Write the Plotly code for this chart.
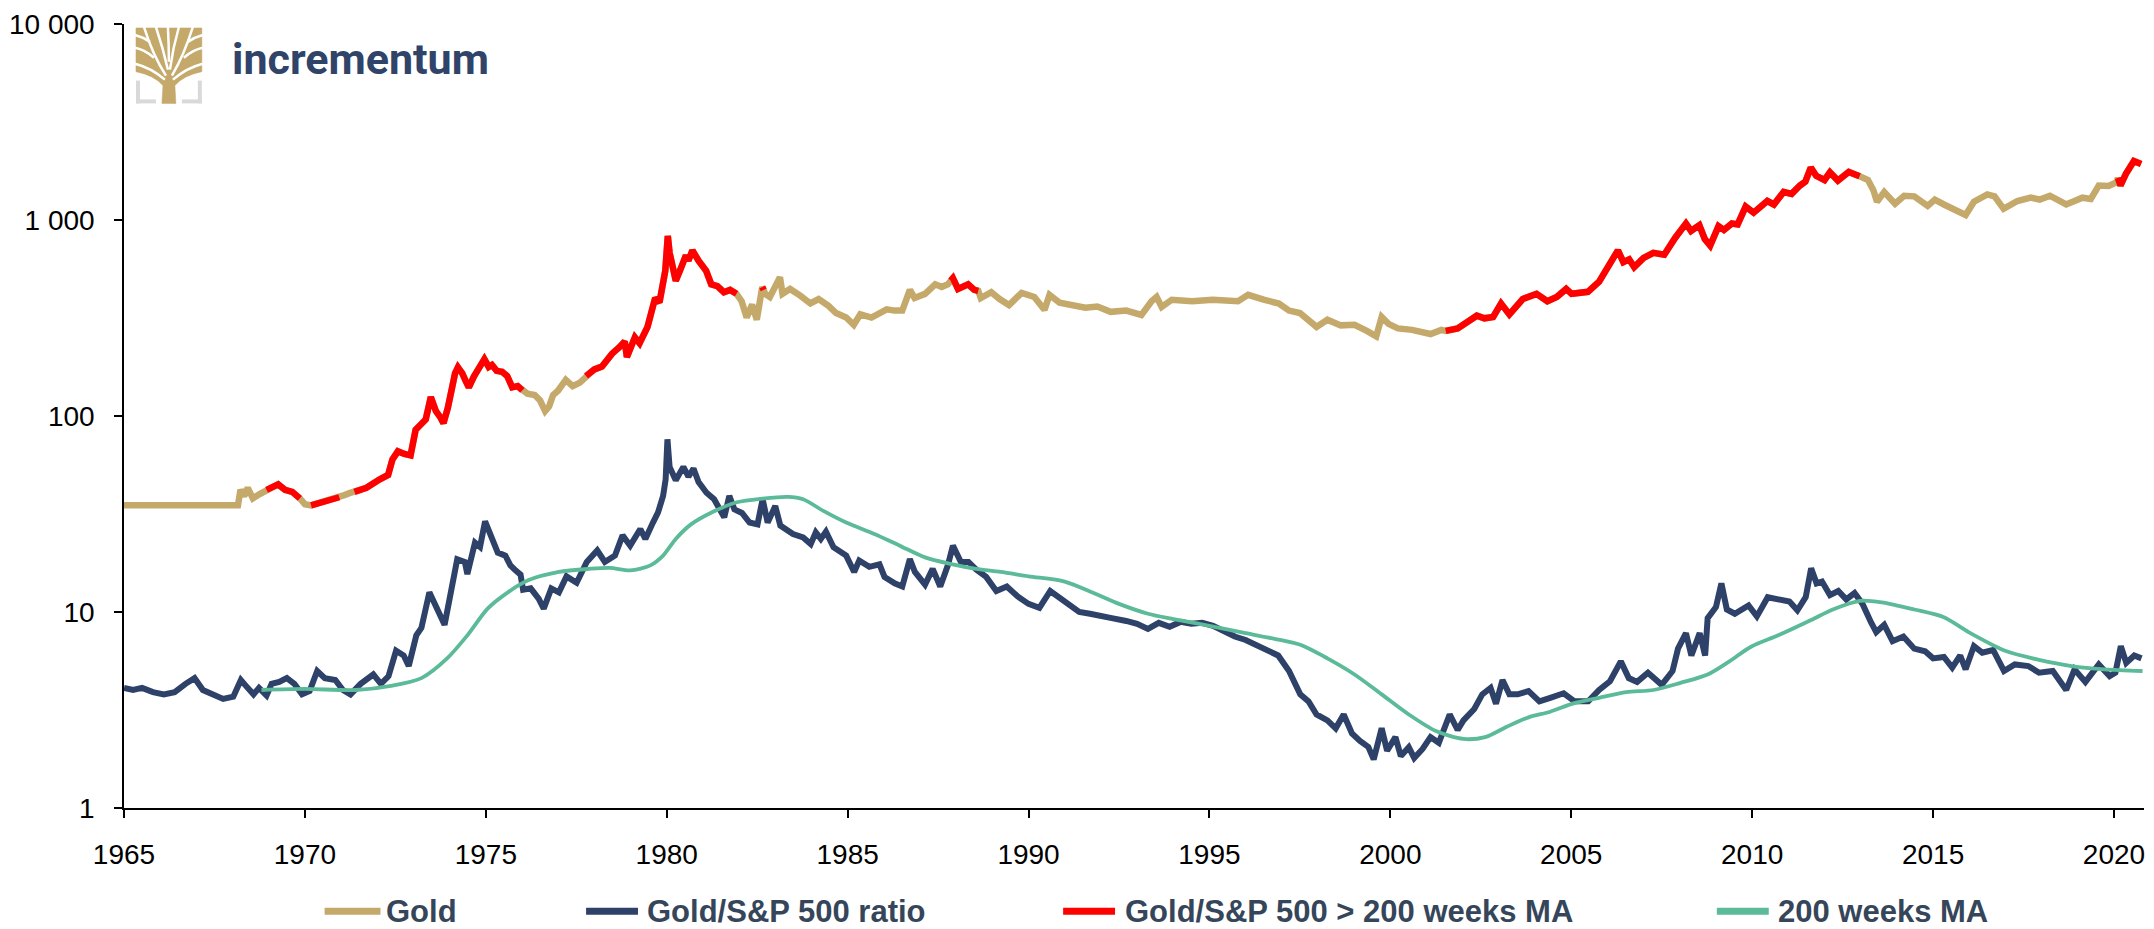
import plotly.graph_objects as go

# ---------------- data ----------------
gold_year = [1965.0, 1968.15, 1968.22, 1968.32, 1968.42, 1968.56, 1968.75, 1968.94, 1969.1, 1969.26,
             1969.45, 1969.65, 1969.86, 1970.0, 1970.17, 1970.4, 1970.6, 1970.81, 1970.95, 1971.09,
             1971.25, 1971.37, 1971.7, 1972.07, 1972.3, 1972.42, 1972.57, 1972.75, 1972.92, 1973.06,
             1973.2, 1973.34, 1973.48, 1973.55, 1973.62, 1973.75, 1973.83, 1973.95, 1974.04, 1974.15,
             1974.23, 1974.35, 1974.45, 1974.53, 1974.67, 1974.85, 1974.96, 1975.08, 1975.17, 1975.3,
             1975.45, 1975.59, 1975.73, 1975.88, 1976.01, 1976.15, 1976.35, 1976.5, 1976.64, 1976.75,
             1976.86, 1977.0, 1977.21, 1977.4, 1977.6, 1977.77, 1978.0, 1978.21, 1978.49, 1978.7,
             1978.84, 1978.9, 1979.12, 1979.25, 1979.47, 1979.68, 1979.8, 1979.96, 1980.03, 1980.08,
             1980.18, 1980.25, 1980.38, 1980.53, 1980.6, 1980.71, 1980.88, 1981.09, 1981.23, 1981.4,
             1981.58, 1981.75, 1981.93, 1982.07, 1982.21, 1982.36, 1982.49, 1982.6, 1982.64, 1982.68,
             1982.72, 1982.85, 1983.13, 1983.2, 1983.41, 1983.7, 1983.97, 1984.2, 1984.47, 1984.68,
             1984.96, 1985.17, 1985.35, 1985.66, 1986.08, 1986.3, 1986.51, 1986.72, 1986.85, 1987.14,
             1987.42, 1987.6, 1987.77, 1987.85, 1987.91, 1988.05, 1988.2, 1988.33, 1988.5, 1988.61,
             1988.68, 1988.97, 1989.2, 1989.46, 1989.81, 1990.16, 1990.44, 1990.58, 1990.86, 1991.2,
             1991.57, 1991.9, 1992.27, 1992.7, 1993.12, 1993.4, 1993.54, 1993.68, 1993.96, 1994.52,
             1995.09, 1995.79, 1996.07, 1996.5, 1996.92, 1997.2, 1997.5, 1997.96, 1998.26, 1998.63,
             1999.01, 1999.35, 1999.61, 1999.76, 1999.95, 2000.21, 2000.6, 2001.11, 2001.41, 2001.53,
             2001.86, 2002.39, 2002.6, 2002.84, 2003.06, 2003.29, 2003.66, 2004.04, 2004.34, 2004.6,
             2004.86, 2005.01, 2005.46, 2005.77, 2005.99, 2006.29, 2006.44, 2006.6, 2006.74, 2007.0,
             2007.27, 2007.57, 2007.87, 2008.17, 2008.31, 2008.54, 2008.69, 2008.84, 2009.07, 2009.22,
             2009.44, 2009.6, 2009.82, 2010.04, 2010.42, 2010.6, 2010.87, 2011.09, 2011.32, 2011.47,
             2011.62, 2011.77, 2012.0, 2012.15, 2012.37, 2012.67, 2012.97, 2013.2, 2013.35, 2013.45,
             2013.65, 2013.95, 2014.2, 2014.48, 2014.85, 2015.05, 2015.3, 2015.6, 2015.9, 2016.13,
             2016.5, 2016.7, 2016.95, 2017.33, 2017.7, 2017.95, 2018.23, 2018.68, 2019.13, 2019.36,
             2019.58, 2019.85, 2020.08, 2020.11, 2020.18, 2020.33, 2020.55, 2020.75]
gold_value = [35.0, 35.0, 42.0, 39.0, 43.0, 38.0, 40.0, 42.0, 43.5, 44.8,
              42.0, 41.0, 38.0, 35.5, 35.0, 36.0, 36.5, 37.7, 38.5, 39.5,
              40.5, 41.0, 43.0, 47.5, 50.0, 60.0, 66.0, 64.0, 63.0, 85.0,
              90.0, 96.0, 125.0, 115.0, 106.0, 98.0, 92.0, 110.0, 136.0, 165.0,
              177.0, 165.0, 150.0, 140.0, 159.0, 185.0, 195.0, 178.0, 182.0, 170.0,
              168.0, 160.0, 140.0, 142.0, 135.0, 130.0, 128.0, 120.0, 106.0, 112.0,
              128.0, 135.0, 153.0, 142.0, 148.0, 160.0, 173.0, 179.0, 208.0, 225.0,
              240.0, 200.0, 252.0, 235.0, 285.0, 400.0, 380.0, 550.0, 830.0, 680.0,
              540.0, 490.0, 560.0, 660.0, 620.0, 700.0, 620.0, 550.0, 470.0, 460.0,
              428.0, 440.0, 420.0, 385.0, 318.0, 370.0, 310.0, 390.0, 455.0, 440.0,
              420.0, 405.0, 510.0, 420.0, 445.0, 410.0, 375.0, 395.0, 365.0, 335.0,
              318.0, 292.0, 330.0, 318.0, 350.0, 345.0, 345.0, 440.0, 400.0, 420.0,
              470.0, 455.0, 470.0, 490.0, 505.0, 445.0, 455.0, 470.0, 440.0, 435.0,
              400.0, 428.0, 395.0, 368.0, 425.0, 405.0, 348.0, 415.0, 378.0, 365.0,
              357.0, 362.0, 340.0, 345.0, 328.0, 385.0, 405.0, 360.0, 392.0, 385.0,
              392.0, 385.0, 415.0, 392.0, 375.0, 345.0, 335.0, 285.0, 310.0, 290.0,
              292.0, 272.0, 255.0, 320.0, 295.0, 280.0, 275.0, 262.0, 275.0, 272.0,
              280.0, 325.0, 315.0, 320.0, 375.0, 330.0, 395.0, 420.0, 385.0, 405.0,
              445.0, 420.0, 430.0, 485.0, 565.0, 700.0, 610.0, 630.0, 575.0, 640.0,
              680.0, 665.0, 810.0, 960.0, 880.0, 940.0, 800.0, 740.0, 930.0, 890.0,
              960.0, 950.0, 1170.0, 1090.0, 1250.0, 1200.0, 1390.0, 1360.0, 1500.0, 1570.0,
              1850.0, 1680.0, 1600.0, 1750.0, 1590.0, 1760.0, 1670.0, 1600.0, 1420.0, 1240.0,
              1390.0, 1210.0, 1330.0, 1320.0, 1180.0, 1270.0, 1200.0, 1120.0, 1060.0, 1240.0,
              1350.0, 1320.0, 1140.0, 1250.0, 1300.0, 1270.0, 1330.0, 1200.0, 1300.0, 1280.0,
              1500.0, 1490.0, 1560.0, 1640.0, 1500.0, 1720.0, 2000.0, 1930.0]
# 1 = Gold/S&P 500 ratio above its 200 weeks MA (gold drawn red)
gold_above_ma = [0, 0, 0, 0, 0, 0, 0, 1, 1, 1,
                 1, 1, 1, 0, 1, 1, 1, 1, 1, 0,
                 0, 1, 1, 1, 1, 1, 1, 1, 1, 1,
                 1, 1, 1, 1, 1, 1, 1, 1, 1, 1,
                 1, 1, 1, 1, 1, 1, 1, 1, 1, 1,
                 1, 1, 1, 1, 1, 0, 0, 0, 0, 0,
                 0, 0, 0, 0, 0, 1, 1, 1, 1, 1,
                 1, 1, 1, 1, 1, 1, 1, 1, 1, 1,
                 1, 1, 1, 1, 1, 1, 1, 1, 1, 1,
                 1, 1, 1, 0, 0, 0, 0, 0, 1, 1,
                 0, 0, 0, 0, 0, 0, 0, 0, 0, 0,
                 0, 0, 0, 0, 0, 0, 0, 0, 0, 0,
                 0, 0, 0, 1, 1, 1, 1, 1, 1, 1,
                 0, 0, 0, 0, 0, 0, 0, 0, 0, 0,
                 0, 0, 0, 0, 0, 0, 0, 0, 0, 0,
                 0, 0, 0, 0, 0, 0, 0, 0, 0, 0,
                 0, 0, 0, 0, 0, 0, 0, 0, 0, 1,
                 1, 1, 1, 1, 1, 1, 1, 1, 1, 1,
                 1, 1, 1, 1, 1, 1, 1, 1, 1, 1,
                 1, 1, 1, 1, 1, 1, 1, 1, 1, 1,
                 1, 1, 1, 1, 1, 1, 1, 1, 1, 1,
                 1, 1, 1, 1, 1, 1, 1, 0, 0, 0,
                 0, 0, 0, 0, 0, 0, 0, 0, 0, 0,
                 0, 0, 0, 0, 0, 0, 0, 0, 0, 0,
                 0, 0, 0, 1, 1, 1, 1, 1]

ratio_year = [1965.0, 1965.25, 1965.5, 1965.8, 1966.1, 1966.4, 1966.7, 1966.95, 1967.18, 1967.46,
              1967.74, 1968.02, 1968.23, 1968.37, 1968.58, 1968.73, 1968.94, 1969.08, 1969.29, 1969.5,
              1969.71, 1969.92, 1970.13, 1970.34, 1970.55, 1970.84, 1971.05, 1971.26, 1971.54, 1971.89,
              1972.1, 1972.31, 1972.52, 1972.73, 1972.87, 1973.08, 1973.22, 1973.44, 1973.65, 1973.86,
              1974.0, 1974.21, 1974.42, 1974.49, 1974.7, 1974.84, 1974.98, 1975.19, 1975.33, 1975.54,
              1975.68, 1975.82, 1975.96, 1976.03, 1976.24, 1976.46, 1976.6, 1976.81, 1977.02, 1977.23,
              1977.51, 1977.79, 1978.08, 1978.29, 1978.57, 1978.78, 1978.99, 1979.27, 1979.41, 1979.62,
              1979.76, 1979.9, 1979.97, 1980.02, 1980.08, 1980.25, 1980.46, 1980.6, 1980.74, 1980.88,
              1981.1, 1981.31, 1981.59, 1981.73, 1981.87, 1982.08, 1982.29, 1982.51, 1982.65, 1982.79,
              1983.0, 1983.14, 1983.49, 1983.77, 1983.98, 1984.12, 1984.26, 1984.4, 1984.61, 1984.96,
              1985.18, 1985.32, 1985.6, 1985.88, 1986.02, 1986.3, 1986.51, 1986.72, 1986.86, 1987.14,
              1987.35, 1987.56, 1987.77, 1987.91, 1988.13, 1988.34, 1988.55, 1988.83, 1989.11, 1989.4,
              1989.7, 1990.0, 1990.3, 1990.6, 1990.8, 1991.1, 1991.4, 1991.7, 1992.0, 1992.3,
              1992.7, 1993.0, 1993.3, 1993.6, 1993.9, 1994.2, 1994.5, 1994.8, 1995.1, 1995.4,
              1995.7, 1996.0, 1996.3, 1996.6, 1996.9, 1997.2, 1997.35, 1997.51, 1997.74, 1997.96,
              1998.26, 1998.49, 1998.71, 1998.94, 1999.16, 1999.39, 1999.54, 1999.76, 1999.91, 2000.14,
              2000.29, 2000.51, 2000.66, 2000.89, 2001.11, 2001.34, 2001.64, 2001.86, 2002.02, 2002.32,
              2002.54, 2002.77, 2002.92, 2003.1, 2003.29, 2003.52, 2003.82, 2004.12, 2004.42, 2004.79,
              2005.09, 2005.47, 2005.77, 2006.07, 2006.37, 2006.59, 2006.82, 2007.12, 2007.5, 2007.8,
              2007.95, 2008.17, 2008.32, 2008.55, 2008.7, 2008.77, 2009.0, 2009.15, 2009.3, 2009.52,
              2009.9, 2010.13, 2010.43, 2010.73, 2011.03, 2011.25, 2011.48, 2011.63, 2011.78, 2011.93,
              2012.15, 2012.38, 2012.6, 2012.83, 2013.05, 2013.28, 2013.43, 2013.65, 2013.88, 2014.18,
              2014.48, 2014.78, 2015.0, 2015.3, 2015.53, 2015.75, 2015.9, 2016.13, 2016.36, 2016.66,
              2016.96, 2017.26, 2017.63, 2017.93, 2018.31, 2018.68, 2018.91, 2019.21, 2019.58, 2019.88,
              2020.04, 2020.19, 2020.34, 2020.56, 2020.76]
ratio_value = [4.1, 4.0, 4.1, 3.9, 3.8, 3.9, 4.3, 4.6, 4.0, 3.8,
               3.6, 3.7, 4.5, 4.2, 3.8, 4.1, 3.75, 4.3, 4.4, 4.6,
               4.3, 3.8, 3.95, 5.0, 4.6, 4.5, 4.0, 3.8, 4.3, 4.8,
               4.3, 4.7, 6.35, 6.0, 5.3, 7.6, 8.3, 12.6, 10.4, 8.6,
               11.7, 18.6, 18.0, 15.6, 22.6, 21.5, 29.0, 22.6, 20.1, 19.4,
               17.3, 16.3, 15.5, 13.0, 13.2, 11.7, 10.4, 13.2, 12.6, 15.2,
               14.1, 18.0, 20.6, 18.0, 19.4, 24.6, 21.8, 26.5, 23.6, 28.6,
               32.2, 39.1, 47.4, 76.0, 55.0, 47.0, 55.0, 49.0, 54.0, 46.0,
               40.6, 37.6, 30.4, 39.1, 33.4, 32.0, 28.6, 28.0, 37.6, 28.6,
               34.7, 27.6, 25.0, 24.0, 22.2, 25.5, 23.6, 25.7, 21.4, 19.4,
               16.0, 18.3, 17.0, 17.5, 15.1, 14.0, 13.5, 18.6, 16.0, 13.8,
               16.6, 13.5, 17.3, 21.8, 18.0, 18.0, 16.5, 15.1, 12.8, 13.5,
               12.0, 11.0, 10.5, 12.8, 12.0, 11.0, 10.0, 9.8, 9.5, 9.3,
               9.0, 8.7, 8.2, 8.8, 8.4, 8.9, 8.7, 8.8, 8.5, 8.0,
               7.5, 7.2, 6.8, 6.4, 6.0, 5.0, 4.4, 3.8, 3.5, 3.0,
               2.8, 2.55, 3.0, 2.4, 2.2, 2.05, 1.77, 2.55, 1.96, 2.3,
               1.84, 2.04, 1.8, 2.0, 2.3, 2.15, 3.0, 2.5, 2.8, 3.2,
               3.8, 4.1, 3.4, 4.5, 3.8, 3.8, 3.95, 3.5, 3.65, 3.85,
               3.5, 3.5, 4.0, 4.43, 5.6, 4.6, 4.4, 4.9, 4.25, 5.0,
               6.5, 7.8, 6.0, 7.8, 6.0, 9.3, 10.6, 14.0, 10.3, 9.8,
               10.8, 9.5, 11.9, 11.5, 11.3, 10.2, 11.9, 16.7, 14.0, 14.3,
               12.2, 12.8, 11.6, 12.5, 11.0, 8.9, 7.9, 8.6, 7.1, 7.5,
               6.5, 6.3, 5.8, 5.9, 5.2, 6.0, 5.1, 6.7, 6.2, 6.4,
               5.0, 5.4, 5.3, 4.9, 5.0, 4.0, 5.1, 4.4, 5.4, 4.7,
               4.9, 6.7, 5.5, 6.0, 5.8]

ma_year = [1968.8, 1969.99, 1971.4, 1972.38, 1973.22, 1973.93, 1974.49, 1975.05, 1975.61, 1976.17,
           1977.02, 1977.86, 1978.43, 1978.99, 1979.55, 1979.9, 1980.25, 1980.67, 1981.24, 1981.94,
           1982.65, 1983.35, 1983.77, 1984.33, 1984.96, 1985.74, 1986.44, 1987.14, 1987.84, 1988.55,
           1989.23, 1990.0, 1991.0, 1991.8, 1992.5, 1993.3, 1994.0, 1995.0, 1996.0, 1996.8,
           1997.51, 1998.26, 1999.01, 1999.76, 2000.51, 2001.26, 2002.02, 2002.62, 2003.22, 2003.82,
           2004.42, 2005.02, 2005.77, 2006.52, 2007.27, 2008.02, 2008.77, 2009.37, 2009.97, 2010.72,
           2011.63, 2012.23, 2012.98, 2013.58, 2014.48, 2015.3, 2015.98, 2017.03, 2017.93, 2018.83,
           2019.73, 2020.79]
ma_value = [4.0, 4.05, 4.0, 4.2, 4.6, 5.8, 7.6, 10.4, 12.6, 14.5,
            16.0, 16.6, 16.8, 16.3, 17.3, 19.4, 23.6, 28.0, 32.2, 36.3,
            37.9, 38.7, 37.6, 32.8, 28.6, 25.0, 21.8, 19.0, 17.6, 16.6,
            16.0, 15.2, 14.3, 12.5, 11.0, 9.8, 9.2, 8.5, 7.8, 7.3,
            6.8, 5.8, 4.8, 3.8, 3.0, 2.47, 2.25, 2.3, 2.6, 2.9,
            3.1, 3.4, 3.65, 3.9, 4.0, 4.35, 4.8, 5.6, 6.65, 7.6,
            9.1, 10.3, 11.4, 11.2, 10.3, 9.4, 7.9, 6.3, 5.7, 5.3,
            5.1, 5.0]

year_ticks = [1965, 1970, 1975, 1980, 1985, 1990, 1995, 2000, 2005, 2010, 2015, 2020]
value_ticks = [1, 10, 100, 1000, 10000]
value_tick_text = ["1", "10", "100", "1 000", "10 000"]
series_names = ["Gold", "Gold/S&P 500 ratio", "Gold/S&P 500 > 200 weeks MA", "200 weeks MA"]

# ---------------- styling ----------------
GOLD = "#C4A96B"
RED = "#FF0000"
NAVY = "#2E4169"
GREEN = "#5BBA97"
LEGEND_TEXT = "#36465A"

W, H = 2154, 929
PL, PT, PW, PH = 121, 18, 2024, 790


def px(x):
    return (x - PL) / PW


def py(y):
    return (PT + PH - y) / PH


red_value = [v if f else None for v, f in zip(gold_value, gold_above_ma)]

fig = go.Figure()
fig.add_trace(go.Scatter(x=gold_year, y=gold_value, mode="lines", name=series_names[0],
                         line=dict(color=GOLD, width=6.5), showlegend=False))
fig.add_trace(go.Scatter(x=gold_year, y=red_value, mode="lines", name=series_names[2],
                         line=dict(color=RED, width=6.5), connectgaps=False, showlegend=False))
fig.add_trace(go.Scatter(x=ratio_year, y=ratio_value, mode="lines", name=series_names[1],
                         line=dict(color=NAVY, width=6), showlegend=False))
fig.add_trace(go.Scatter(x=ma_year, y=ma_value, mode="lines", name=series_names[3],
                         line=dict(color=GREEN, width=3.8, shape="spline", smoothing=0.8),
                         showlegend=False))

tick_font = dict(family="Liberation Sans, Arial, sans-serif", size=28, color="#000000")

fig.update_layout(
    width=W, height=H,
    margin=dict(l=PL, r=W - PL - PW, t=PT, b=H - PT - PH),
    paper_bgcolor="white", plot_bgcolor="white",
    xaxis=dict(range=[1965, 2020.83], tickmode="array", tickvals=year_ticks,
               ticktext=[str(t) for t in year_ticks], showgrid=False, zeroline=False,
               showline=True, linecolor="#000000", linewidth=2.2,
               ticks="outside", ticklen=8, tickwidth=1.6, tickcolor="#000000",
               tickfont=tick_font, ticklabelstandoff=12),
    yaxis=dict(type="log", range=[0, 4], tickmode="array", tickvals=value_ticks,
               ticktext=value_tick_text, showgrid=False, zeroline=False,
               showline=True, linecolor="#000000", linewidth=1.5,
               ticks="outside", ticklen=8, tickwidth=1.6, tickcolor="#000000",
               tickfont=tick_font, ticklabelstandoff=14),
    showlegend=False,
)

shapes = []
annotations = []

# custom legend below the plot
legend_items = [(322, 378, 382, GOLD), (584, 636, 643, NAVY), (1062, 1114, 1122, RED), (1717, 1769, 1776, GREEN)]
LEG_Y = 912
for (x0, x1, tx, col), name in zip(legend_items, series_names):
    shapes.append(dict(type="line", xref="paper", yref="paper", x0=px(x0), x1=px(x1),
                       y0=py(LEG_Y), y1=py(LEG_Y), line=dict(color=col, width=7)))
    annotations.append(dict(xref="paper", yref="paper", x=px(tx), y=py(LEG_Y), xanchor="left",
                            yanchor="middle", showarrow=False,
                            text="<b>" + name.replace("&", "&amp;").replace(">", "&gt;") + "</b>",
                            font=dict(family="Liberation Sans, Arial, sans-serif", size=31,
                                      color=LEGEND_TEXT)))


# logo: tree icon (gold crown with white branch gaps, gray corner brackets)
def path(cmds):
    out = []
    for c in cmds:
        if isinstance(c, str):
            out.append(c)
        else:
            out.append("%.5f,%.5f" % (px(c[0]), py(c[1])))
    return " ".join(out)


GRAY = "#D9D9D9"
for (x0, y0, x1, y1) in [(133, 75, 137, 98), (133, 94, 153, 98), (195, 75, 199, 98), (179, 94, 199, 98)]:
    shapes.append(dict(type="rect", xref="paper", yref="paper", x0=px(x0), x1=px(x1),
                       y0=py(y1), y1=py(y0), fillcolor=GRAY, line=dict(width=0)))

crown = path(["M", (159, 98), "L", (173, 98), "L", (172, 80), "Q", (180, 70), (199, 66),
              "L", (199, 22), "L", (133, 22), "L", (133, 66), "Q", (152, 70), (160, 80), "Z"])
shapes.append(dict(type="path", xref="paper", yref="paper", path=crown, fillcolor=GOLD,
                   line=dict(color=GOLD, width=0.5)))
gaps = [
    [(163, 70), (150, 50), (141, 21)],
    [(165, 64), (160, 42), (153, 21)],
    [(167, 64), (170, 42), (176, 21)],
    [(169, 70), (181, 50), (190, 21)],
    [(162, 74), (148, 62), (132, 58)],
    [(170, 74), (184, 62), (200, 58)],
    [(151, 52), (142, 44), (132, 42)],
    [(181, 52), (190, 44), (200, 42)],
    [(147, 36), (140, 31), (132, 29)],
    [(185, 36), (192, 31), (200, 29)],
    [(166, 56), (166, 40), (165, 21)],
]
for g in gaps:
    shapes.append(dict(type="path", xref="paper", yref="paper",
                       path=path(["M", g[0], "Q", g[1], g[2]]),
                       line=dict(color="white", width=2.5)))

annotations.append(dict(xref="paper", yref="paper", x=px(227), y=py(80), xanchor="left",
                        yanchor="bottom", showarrow=False, text="<b>incrementum</b>",
                        font=dict(family="Roboto, Liberation Sans, sans-serif",
                                  size=43, color="#2F4468")))

fig.update_layout(shapes=shapes, annotations=annotations)

fig.write_html("out.html", config={"displayModeBar": False},
               post_script="document.body.style.margin='0';document.body.style.overflow='hidden';")
